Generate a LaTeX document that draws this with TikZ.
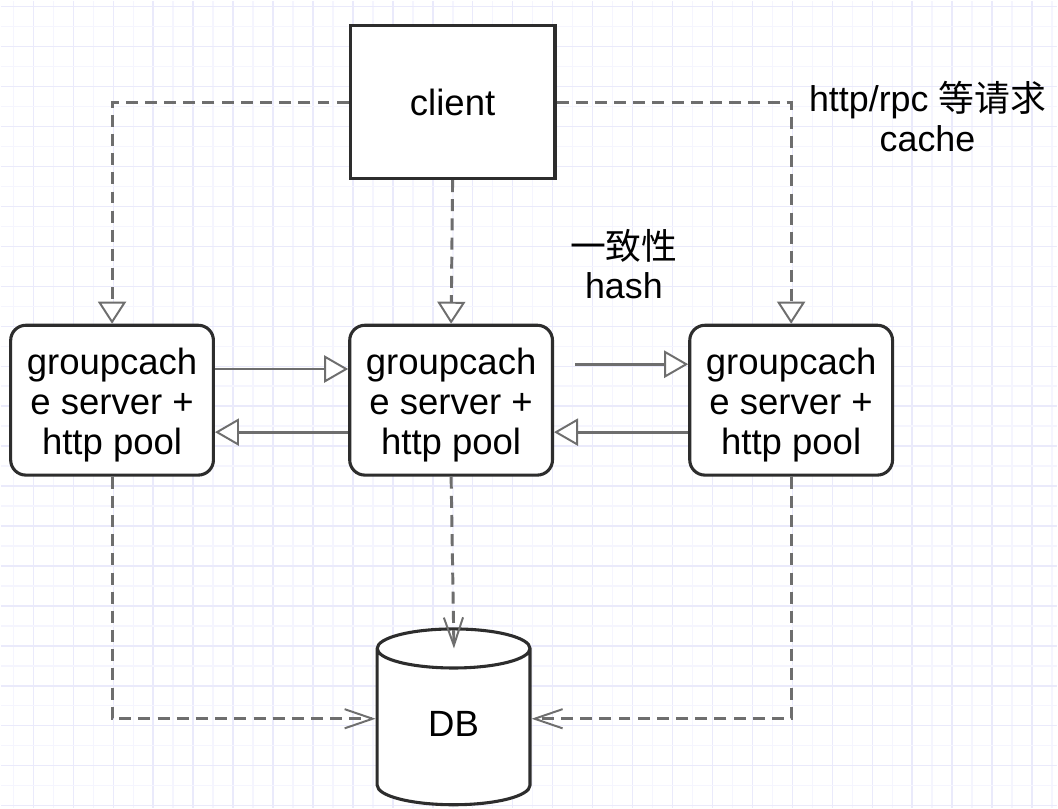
\documentclass[tikz,border=0pt]{standalone}
\usepackage{fontspec}
\setmainfont{Liberation Sans}
\newfontfamily\cjk{Noto Sans CJK SC}
\usepackage{tikz}
\usetikzlibrary{shapes.geometric, arrows.meta, positioning, calc}
\definecolor{mydark}{RGB}{45,45,45}
\definecolor{mygrey}{RGB}{110,110,110}
\definecolor{gridlight}{RGB}{245,245,254}
\definecolor{griddark}{RGB}{234,234,251}
\newcommand{\srvtext}{\rule{0pt}{0.9cm}groupcach\\e server +\\http pool}
\tikzset{
  clientbox/.style={rectangle, draw=mydark, fill=white, line width=2.2pt,
    minimum width=5.125cm, minimum height=3.825cm, font=\fontsize{26}{28.5}\selectfont},
  serverbox/.style={rectangle, draw=mydark, fill=white, line width=2.2pt,
    minimum width=5.075cm, minimum height=3.75cm, rounded corners=0.38cm,
    align=center, font=\fontsize{26}{28.5}\selectfont},
  dbnode/.style={cylinder, shape border rotate=90, aspect=0.65, draw=mydark,
    fill=white, line width=2.2pt, minimum width=3.825cm, minimum height=4.4cm,
    font=\fontsize{26}{28.5}\selectfont},
  note/.style={align=center, font=\fontsize{25.5}{28}\selectfont},
  dashline/.style={mygrey, line width=2.1pt, dash pattern=on 0.3cm off 0.18cm},
  reqarrow/.style={dashline, -{Triangle[open, length=0.55cm, width=0.7cm, line width=1.4pt, fill=white]}},
  dbarrow/.style={dashline, -{Straight Barb[length=0.7cm, width=0.48cm, line width=1.4pt]}},
  peerarrow/.style={mygrey, line width=2pt, -{Triangle[open, length=0.6cm, width=0.68cm, line width=1.4pt, fill=white]}}
}

\begin{document}
\begin{tikzpicture}[x=0.025cm, y=-0.025cm]
  % ── background grid ──
  \fill[white] (0,0) rectangle (1058,808);
  \foreach \i in {0,...,52} {
    \pgfmathsetmacro{\gx}{12.7+20*\i}
    \ifodd\i \def\gc{griddark}\else\def\gc{gridlight}\fi
    \draw[\gc, line width=1pt] (\gx,0) -- (\gx,808);
  }
  \foreach \j in {0,...,40} {
    \pgfmathsetmacro{\gy}{6+20*\j}
    \ifodd\j \def\gc{gridlight}\else\def\gc{griddark}\fi
    \draw[\gc, line width=1pt] (0,\gy) -- (1058,\gy);
  }
  \useasboundingbox (0,0) rectangle (1058,808);

  % ── nodes ──
  \node[clientbox] (client) at (452.5,101.5) {client};
  \node[serverbox] (srvL) at (111.5,400) {\srvtext};
  \node[serverbox] (srvM) at (451,400) {\srvtext};
  \node[serverbox] (srvR) at (791.5,400) {\srvtext};
  \node[dbnode] (db) at (453.5,731) {\raisebox{0.32cm}{DB}};

  % ── labels ──
  \node[note] (hashlbl) at (624,264) {{\cjk 一致性}\\hash};
  \node[note] (reqlbl) at (928,116) {http/rpc {\cjk 等请求}\\cache};

  % ── client requests ──
  \draw[reqarrow] (client.west) -| (srvL.north);
  \draw[reqarrow] (client.south) -- (srvM.north);
  \draw[reqarrow] (client.east) -| (srvR.north);

  % ── peer links ──
  \draw[peerarrow] ([yshift=0.78cm]srvL.east) -- ([yshift=0.78cm]srvM.west);
  \draw[peerarrow, shorten <=15] ([yshift=0.9cm]srvM.east) -- ([yshift=0.9cm]srvR.west);
  \draw[peerarrow] ([yshift=-0.8cm]srvM.west) -- ([yshift=-0.8cm]srvL.east);
  \draw[peerarrow] ([yshift=-0.8cm]srvR.west) -- ([yshift=-0.8cm]srvM.east);

  % ── database access ──
  \draw[dbarrow] (srvL.south) |- ([yshift=0.3cm]db.west);
  \draw[dbarrow, shorten >=-15] (srvM.south) -- (db.north);
  \draw[dbarrow] (srvR.south) |- ([yshift=0.3cm]db.east);
\end{tikzpicture}
\end{document}
